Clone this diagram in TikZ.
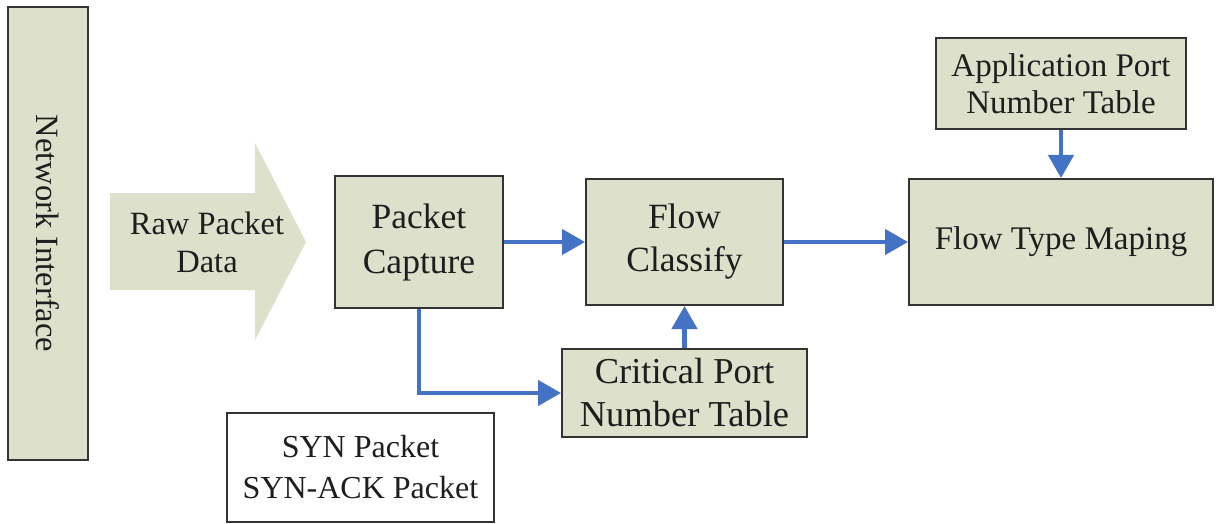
\documentclass[tikz,border=0pt]{standalone}
\usepackage{fontspec}
\setmainfont{Liberation Serif}
\usetikzlibrary{arrows.meta}
\definecolor{boxfill}{HTML}{DDE0CA}
\definecolor{boxline}{HTML}{333333}
\definecolor{flowblue}{HTML}{4472C4}
\definecolor{ink}{HTML}{1E1E1E}
\tikzset{
  block/.style={draw=boxline, line width=2pt, fill=boxfill, text=ink,
    align=center, inner sep=0pt},
  plain/.style={draw=boxline, line width=2pt, fill=white, text=ink,
    align=center, inner sep=0pt},
  link/.style={draw=flowblue, line width=4.5pt,
    -{Triangle[length=23pt 0 0, width=25pt 0 0]}},
}
\begin{document}
\begin{tikzpicture}[x=1pt, y=-1pt]
\useasboundingbox (0,0) rectangle (1216,524);
\fill[white] (0,0) rectangle (1216,524);

% network interface bar
\node[block, font=\fontsize{32.5}{38}\selectfont, minimum width=80pt, minimum height=453pt] (ni) at (48,233.5)
  {\rotatebox{-90}{Network Interface}};

% raw packet data arrow
\fill[boxfill] (110,193) -- (255,193) -- (255,143) -- (306,242)
  -- (255,340) -- (255,290) -- (110,290) -- cycle;
\node[font=\fontsize{32.5}{38}\selectfont, text=ink, align=center] (raw) at (207,242)
  {Raw Packet\\Data};

% processing blocks
\node[block, font=\fontsize{35.5}{45}\selectfont, minimum width=168pt, minimum height=131pt] (pc) at (419,242)
  {Packet\\Capture};
\node[block, font=\fontsize{35.5}{43}\selectfont, minimum width=197pt, minimum height=126pt] (fc) at (684.5,242)
  {Flow\\Classify};
\node[block, font=\fontsize{36.5}{43}\selectfont, minimum width=245pt, minimum height=88pt] (cpt) at (684.5,393)
  {Critical Port\\Number Table};
\node[block, font=\fontsize{33}{38}\selectfont, minimum width=304pt, minimum height=126pt] (ftm) at (1061,242)
  {Flow Type Maping};
\node[block, font=\fontsize{33}{37}\selectfont, minimum width=250pt, minimum height=91pt] (apt) at (1061,83.5)
  {Application Port\\Number Table};

% packet types note
\node[plain, font=\fontsize{32}{41}\selectfont, minimum width=267pt, minimum height=109pt] (syn) at (360.5,467.5)
  {SYN Packet\\SYN-ACK Packet};

% connectors
\draw[link] (pc) -- (fc);
\draw[link] (fc) -- (ftm);
\draw[link] (cpt) -- (fc);
\draw[link] (apt) -- (ftm);
\draw[link] (pc.south) |- (cpt.west);
\end{tikzpicture}
\end{document}
